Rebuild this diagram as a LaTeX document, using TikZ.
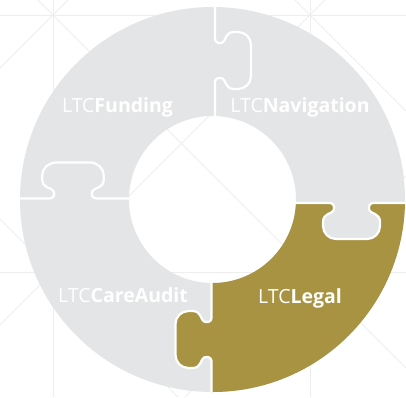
\documentclass[tikz,border=0pt]{standalone}
\usepackage{fontspec}
\setmainfont{Open Sans}
\definecolor{ringgray}{RGB}{228,229,230}
\definecolor{legalgold}{RGB}{168,147,66}
\definecolor{bgline}{RGB}{238,238,238}
\def\knobtail{-- (-21.5,0) .. controls (-18,0) and (-16.5,4) .. (-18,7.5) .. controls (-19.5,11) and (-28.5,10) .. (-28.5,19) -- (-28.5,23) .. controls (-28.5,30.2) and (-22.7,36) .. (-15.5,36) -- (15.5,36) .. controls (22.7,36) and (28.5,30.2) .. (28.5,23) -- (28.5,19) .. controls (28.5,10) and (19.5,11) .. (18,7.5) .. controls (16.5,4) and (18,0) .. (21.5,0)}
\begin{document}
\begin{tikzpicture}[x=1pt,y=1pt,
  sep/.style={draw=white, line width=2.2pt, line join=round},
  bgl/.style={draw=bgline, line width=0.8pt},
  lbl/.style={anchor=base, text=white, font=\fontsize{19.5}{19.5}\selectfont, inner sep=0pt}]
\useasboundingbox (0,0) rectangle (406,-397);
% faint background lattice
\draw[bgl] (0,-15) -- (406,-15);
\draw[bgl] (0,-272) -- (406,-272);
\draw[bgl] (53,0) -- (53,-397);
\draw[bgl] (310,0) -- (310,-397);
\draw[bgl] (38,0) -- (406,-368);
\draw[bgl] (295,0) -- (406,-111);
\draw[bgl] (0,-219) -- (178,-397);
\draw[bgl] (68,0) -- (0,-68);
\draw[bgl] (325,0) -- (0,-325);
\draw[bgl] (406,-176) -- (185,-397);
% ring
\coordinate (C) at (212.5,-199.5);
\fill[ringgray, even odd rule] (C) circle[radius=192.5] (C) circle[radius=83.5];
\begin{scope}
  \clip (211.5,-203) rectangle (420,-420);
  \fill[legalgold, even odd rule] (C) circle[radius=192.5] (C) circle[radius=83.5];
\end{scope}
% Legal knob into CareAudit
\begin{scope}[shift={(211.5,-339.5)}, rotate=90]
  \fill[legalgold] (-21.5,-2) \knobtail -- (21.5,-2) -- cycle;
\end{scope}
% Navigation knob into Legal
\begin{scope}[shift={(351.5,-203)}, rotate=180]
  \fill[ringgray] (-21.5,-2) \knobtail -- (21.5,-2) -- cycle;
\end{scope}
% white separations
\begin{scope}
  \clip (C) circle[radius=192.5];
  \begin{scope}[shift={(215,-60.5)}, rotate=-90]
    \draw[sep] (-70,0) \knobtail -- (62,0);
  \end{scope}
  \begin{scope}[shift={(73,-198.5)}, xscale=1.08]
    \draw[sep] (-70,0) \knobtail -- (56,0);
  \end{scope}
  \begin{scope}[shift={(351.5,-203)}, rotate=180]
    \draw[sep] (-70,0) \knobtail -- (60,0);
  \end{scope}
  \begin{scope}[shift={(211.5,-339.5)}, rotate=90]
    \draw[sep] (-70,0) \knobtail -- (62,0);
  \end{scope}
\end{scope}
% labels
\node[lbl] (fund) at (117.5,-112) {LTC\textbf{Funding}};
\node[lbl] (navi) at (300,-112) {LTC\textbf{Navigation}};
\node[lbl] (care) at (123,-302) {LTC\textbf{CareAudit}};
\node[lbl] (legal) at (300,-303) {LTC\textbf{Legal}};
\end{tikzpicture}
\end{document}
